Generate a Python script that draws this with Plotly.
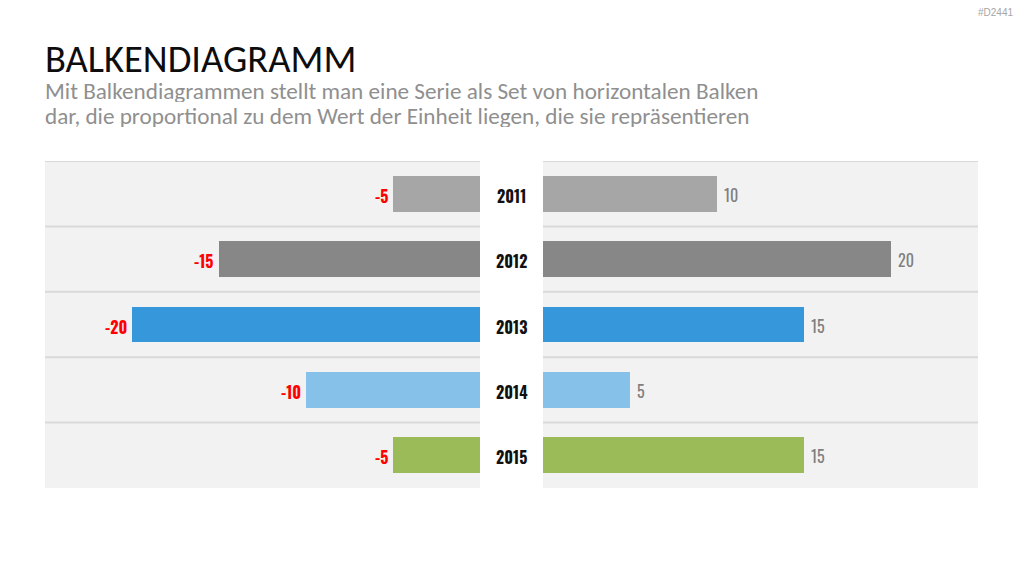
import plotly.graph_objects as go

years = ["2011", "2012", "2013", "2014", "2015"]
left_values = [-5, -15, -20, -10, -5]
right_values = [10, 20, 15, 5, 15]
bar_colors = ["#A6A6A6", "#878787", "#3698DB", "#85C1E9", "#9BBB59"]

title_text = "BALKENDIAGRAMM"
subtitle_lines = [
    "Mit Balkendiagrammen stellt man eine Serie als Set von horizontalen Balken",
    "dar, die proportional zu dem Wert der Einheit liegen, die sie repräsentieren",
]
code_text = "#D2441"

W, H = 1024, 576
COND = "Oswald, Roboto Condensed, sans-serif"
BODY = "Carlito, Calibri, Lato, sans-serif"

def px(x):
    return x / W

def py(y):
    return 1 - y / H

fig = go.Figure()
idx = list(range(len(years)))

fig.add_trace(go.Bar(
    y=idx, x=left_values, orientation="h", xaxis="x", yaxis="y",
    marker=dict(color=bar_colors, line=dict(width=0)),
    width=0.55, showlegend=False, hoverinfo="skip",
))
fig.add_trace(go.Bar(
    y=idx, x=right_values, orientation="h", xaxis="x2", yaxis="y2",
    marker=dict(color=bar_colors, line=dict(width=0)),
    width=0.55, showlegend=False, hoverinfo="skip",
))

ydom = [py(488), py(161)]
axis_common = dict(showgrid=False, zeroline=False, showticklabels=False,
                   showline=False, ticks="", fixedrange=True)
fig.update_layout(
    width=W, height=H,
    margin=dict(l=0, r=0, t=0, b=0),
    paper_bgcolor="white", plot_bgcolor="#F2F2F2",
    bargap=0,
    xaxis=dict(domain=[px(45), px(480)], range=[-25, 0], **axis_common),
    xaxis2=dict(domain=[px(543), px(978)], range=[0, 25], **axis_common),
    yaxis=dict(domain=ydom, range=[4.5, -0.5], anchor="x", **axis_common),
    yaxis2=dict(domain=ydom, range=[4.5, -0.5], anchor="x2", **axis_common),
)

# row separator lines
shapes = []
for i in idx:
    b = i - 0.5
    for xr in ["x", "x2"]:
        shapes.append(dict(type="line", xref=f"{xr} domain", yref="y", x0=0, x1=1,
                           y0=b, y1=b, line=dict(color="#D9D9D9", width=2), layer="above"))
fig.update_layout(shapes=shapes)

annotations = []
for i, yr in enumerate(years):
    annotations.append(dict(x=px(511.5), xref="paper", y=i, yref="y", text=yr,
                            showarrow=False, xanchor="center", yanchor="middle", yshift=-2,
                            font=dict(family=COND, size=16, color="#111111", weight="bold")))
    annotations.append(dict(x=left_values[i], xref="x", y=i, yref="y", text=str(left_values[i]),
                            showarrow=False, xanchor="right", yanchor="middle", xshift=-3, yshift=-2,
                            font=dict(family=COND, size=16, color="#FF0000", weight="bold")))
    annotations.append(dict(x=right_values[i], xref="x2", y=i, yref="y2", text=str(right_values[i]),
                            showarrow=False, xanchor="left", yanchor="middle", xshift=5, yshift=-1,
                            font=dict(family=COND, size=16, color="#7F7F7F")))

annotations.append(dict(x=px(43), y=py(58), xref="paper", yref="paper", text=title_text,
                        showarrow=False, xanchor="left", yanchor="middle", height=34,
                        font=dict(family=BODY, size=38.5, color="#0D0D0D")))
for i, line in enumerate(subtitle_lines):
    annotations.append(dict(x=px(43), y=py(91 + 25 * i), xref="paper", yref="paper", text=line,
                            showarrow=False, xanchor="left", yanchor="middle", height=22,
                            font=dict(family=BODY, size=23.2, color="#8F8F8F")))
annotations.append(dict(x=px(1015), y=py(13), xref="paper", yref="paper", text=code_text,
                        showarrow=False, xanchor="right", yanchor="middle",
                        font=dict(family="Liberation Sans, sans-serif", size=10, color="#A6A6A6")))
fig.update_layout(annotations=annotations)

fig.write_html("out.html")
